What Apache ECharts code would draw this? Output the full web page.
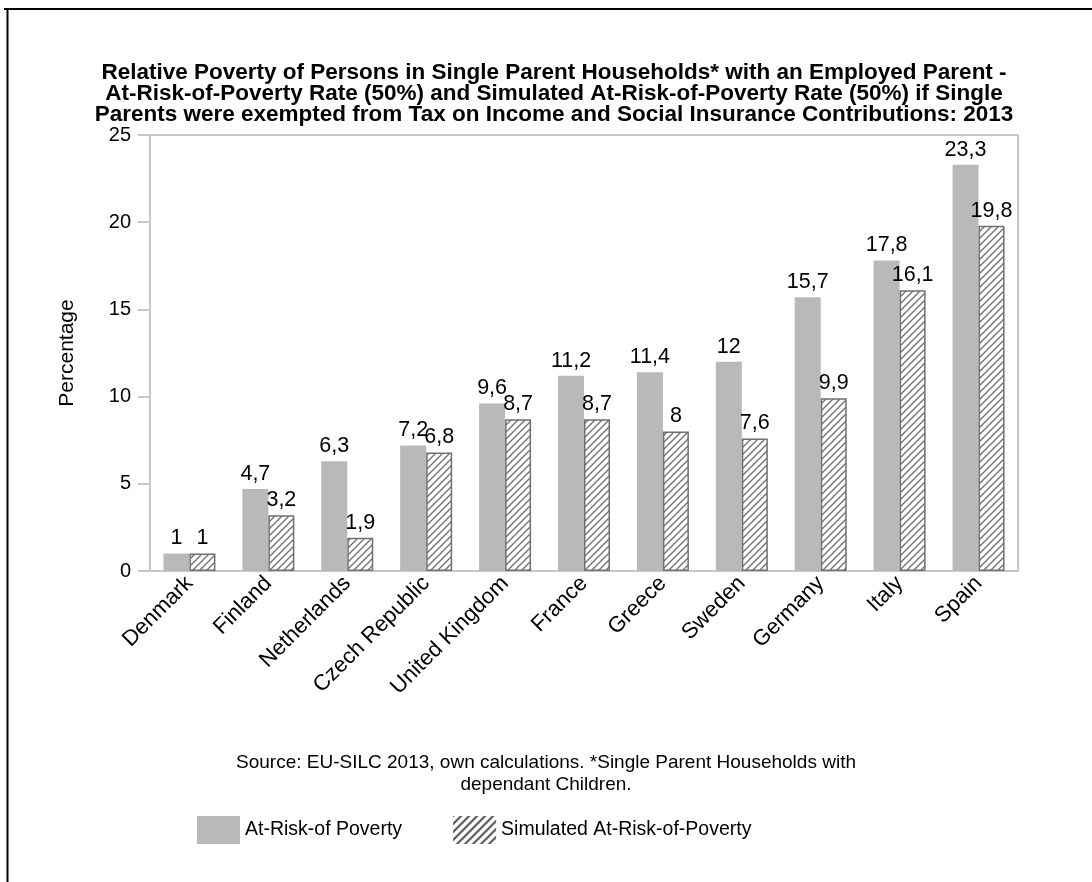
<!DOCTYPE html>
<html>
<head>
<meta charset="utf-8">
<script src="https://cdn.jsdelivr.net/npm/echarts@6/dist/echarts.min.js"></script>
<style>
  html, body { margin: 0; padding: 0; background: #fff; }
  #chart { width: 1092px; height: 882px; }
</style>
</head>
<body>
<div id="chart"></div>
<script>
// Countries, ordered by the at-risk-of-poverty rate
const countries = ['Denmark', 'Finland', 'Netherlands', 'Czech Republic', 'United Kingdom',
  'France', 'Greece', 'Sweden', 'Germany', 'Italy', 'Spain'];
// At-risk-of-poverty rate (50%), in percent
const atRisk = [1, 4.7, 6.3, 7.2, 9.6, 11.2, 11.4, 12, 15.7, 17.8, 23.3];
// Simulated rate when single parents pay no income tax or social contributions
const simulated = [1, 3.2, 1.9, 6.8, 8.7, 8.7, 8, 7.6, 9.9, 16.1, 19.8];
const seriesNames = ['At-Risk-of Poverty', 'Simulated At-Risk-of-Poverty'];
const yTicks = [0, 5, 10, 15, 20, 25];

const FONT = '"Liberation Sans", Arial, Helvetica, sans-serif';

// Diagonal hatch fill for the simulated bars
function hatchPattern(lineColor, step, lw) {
  const c = document.createElement('canvas');
  c.width = step; c.height = step;
  const g = c.getContext('2d');
  g.fillStyle = '#ffffff';
  g.fillRect(0, 0, step, step);
  g.strokeStyle = lineColor;
  g.lineWidth = lw;
  g.beginPath();
  g.moveTo(-1, step + 1); g.lineTo(step + 1, -1);
  g.moveTo(-2, 2); g.lineTo(2, -2);
  g.moveTo(step - 2, step + 2); g.lineTo(step + 2, step - 2);
  g.stroke();
  return { image: c, repeat: 'repeat' };
}

const commaFmt = p => String(p.value).replace('.', ',');

const chart = echarts.init(document.getElementById('chart'), null, { renderer: 'canvas' });

chart.setOption({
  backgroundColor: '#ffffff',
  animation: false,
  textStyle: { fontFamily: FONT },
  title: {
    text: 'Relative Poverty of Persons in Single Parent Households* with an Employed Parent -\n' +
          'At-Risk-of-Poverty Rate (50%) and Simulated At-Risk-of-Poverty Rate (50%) if Single\n' +
          'Parents were exempted from Tax on Income and Social Insurance Contributions: 2013',
    left: 549, textAlign: 'center', top: 57,
    textStyle: { fontFamily: FONT, fontSize: 22.5, fontWeight: 'bold', color: '#000', lineHeight: 21 }
  },
  legend: {
    left: 192, top: 811,
    icon: 'rect',
    itemWidth: 43, itemHeight: 28, itemGap: 51,
    textStyle: { fontFamily: FONT, fontSize: 19.5, color: '#000' },
    data: [
      { name: seriesNames[0] },
      { name: seriesNames[1], itemStyle: { borderWidth: 0, color: hatchPattern('#5a5a5a', 8, 2.2) } }
    ]
  },
  graphic: [
    { type: 'line', shape: { x1: 4, y1: 9, x2: 1092, y2: 9 }, style: { stroke: '#000', lineWidth: 2 } },
    { type: 'line', shape: { x1: 7.5, y1: 8, x2: 7.5, y2: 882 }, style: { stroke: '#000', lineWidth: 2 } },
    {
      type: 'text', x: 546, y: 752,
      style: {
        text: 'Source: EU-SILC 2013, own calculations. *Single Parent Households with\ndependant Children.',
        fontFamily: FONT, fontSize: 19, fill: '#000', align: 'center', verticalAlign: 'top', lineHeight: 22
      }
    }
  ],
  grid: {
    left: 150, right: 74, top: 135, bottom: 311,
    show: true, borderColor: '#c8c8c8', borderWidth: 2, backgroundColor: 'transparent'
  },
  xAxis: {
    type: 'category',
    data: countries,
    axisLine: { show: true, lineStyle: { color: '#c8c8c8', width: 2 } },
    axisTick: { show: false },
    axisLabel: { rotate: 45, fontFamily: FONT, fontSize: 22, color: '#000', margin: 9, interval: 0 }
  },
  yAxis: {
    type: 'value',
    min: yTicks[0], max: yTicks[yTicks.length - 1], interval: 5,
    name: 'Percentage', nameLocation: 'middle', nameGap: 72, nameRotate: 90,
    nameTextStyle: { fontFamily: FONT, fontSize: 21, color: '#000' },
    axisLine: { show: true, lineStyle: { color: '#c8c8c8', width: 2 } },
    axisTick: { show: true, inside: false, length: 12, lineStyle: { color: '#c8c8c8', width: 2 } },
    axisLabel: { fontFamily: FONT, fontSize: 20, color: '#000', margin: 19 },
    splitLine: { show: false }
  },
  series: [
    {
      name: seriesNames[0], type: 'bar', data: atRisk,
      barWidth: 26, barGap: '0%',
      itemStyle: { color: '#b9b9b9' },
      label: { show: true, position: 'top', distance: 4, formatter: commaFmt,
               fontFamily: FONT, fontSize: 21.5, color: '#000' }
    },
    {
      name: seriesNames[1], type: 'bar', data: simulated,
      barWidth: 26,
      itemStyle: { color: hatchPattern('#6e6e6e', 7, 1.3), borderColor: '#707070', borderWidth: 1.5 },
      label: { show: true, position: 'top', distance: 4, formatter: commaFmt,
               fontFamily: FONT, fontSize: 21.5, color: '#000' }
    }
  ]
});
</script>
</body>
</html>
